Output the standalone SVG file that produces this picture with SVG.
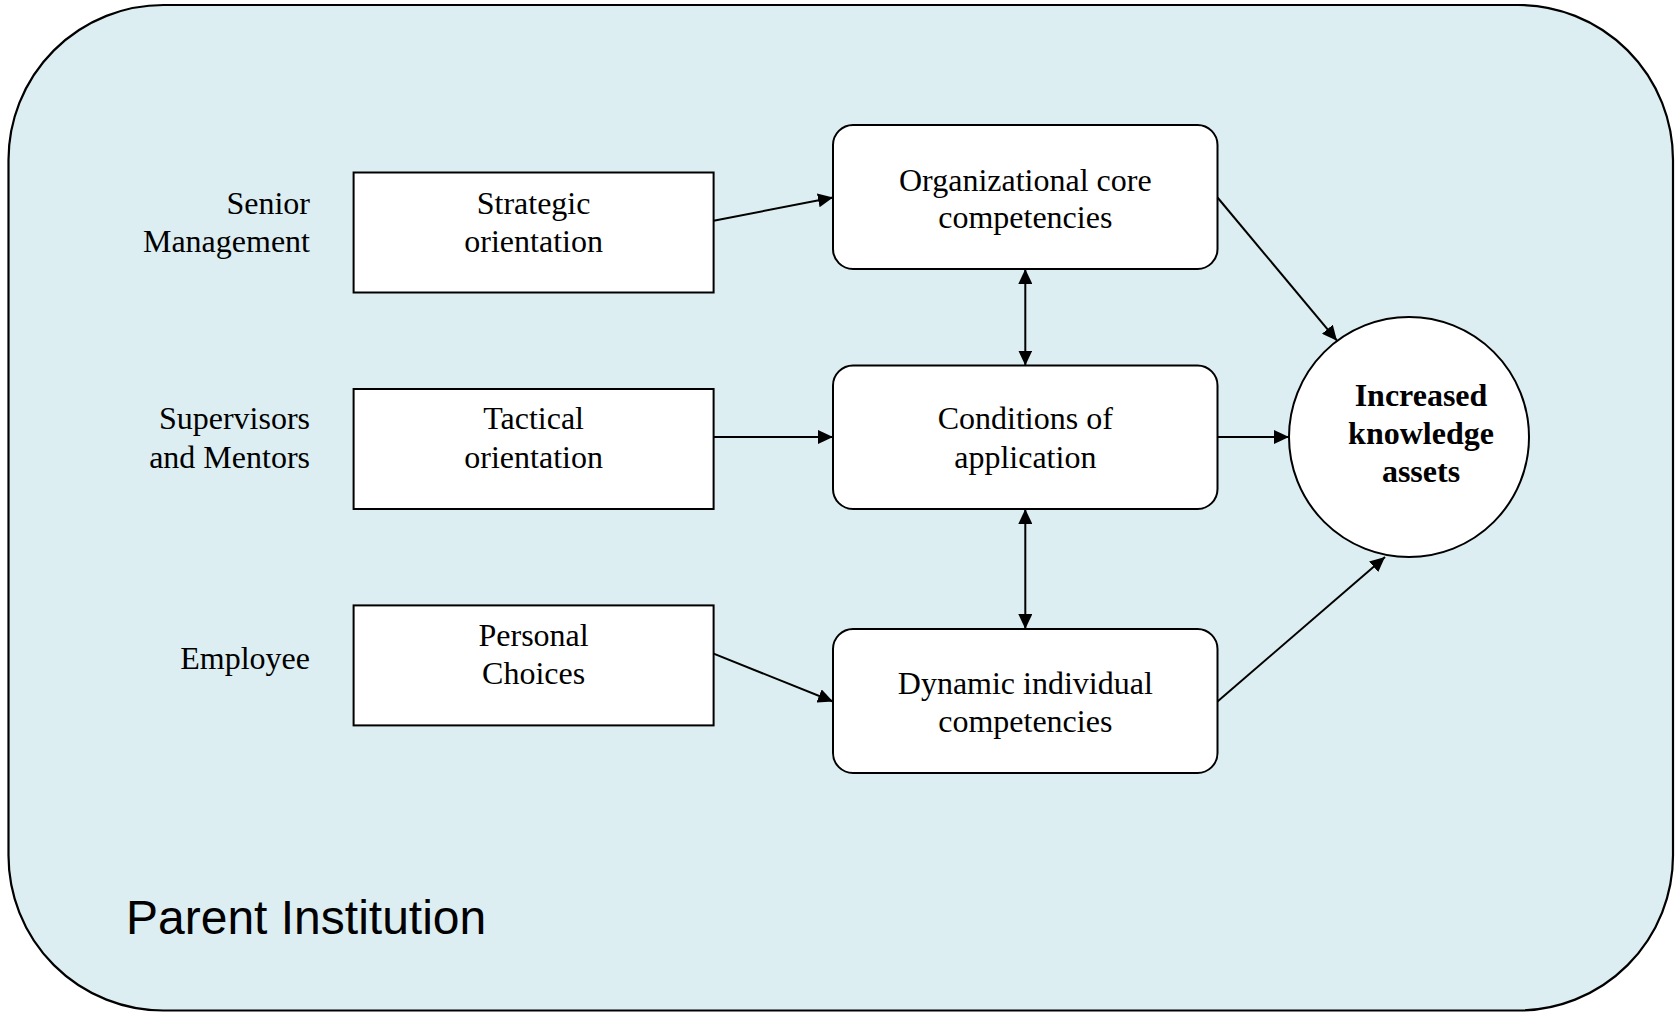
<svg xmlns="http://www.w3.org/2000/svg" width="1680" height="1013" viewBox="0 0 1680 1013">
  <style>
    .frame { fill: #DCEEF1; stroke: #000; stroke-width: 2.2; }
    .box { fill: #fff; stroke: #000; stroke-width: 2; }
    .t { font-family: "Liberation Serif", "Times New Roman", serif; font-size: 32px; fill: #000; }
    .c { text-anchor: middle; }
    .r { text-anchor: end; }
    .b { font-weight: bold; }
    .big { font-family: "Liberation Sans", Arial, sans-serif; font-size: 48px; fill: #000; }
    .edge { stroke: #000; stroke-width: 2; fill: none; }
  </style>
  <defs>
    <marker id="arrow" markerUnits="userSpaceOnUse" viewBox="0 0 15 14" refX="15" refY="7" markerWidth="15" markerHeight="14" orient="auto-start-reverse">
      <path d="M0,0 L15,7 L0,14 z" fill="#000"/>
    </marker>
  </defs>

  <!-- enclosing institution -->
  <g id="parent-institution">
    <rect class="frame" x="8.5" y="5" width="1664.5" height="1005.5" rx="155" ry="155"/>
    <text class="big" x="126" y="934">Parent Institution</text>
  </g>

  <!-- row labels -->
  <g id="label-senior">
    <text class="t r" x="310" y="213.5">Senior</text>
    <text class="t r" x="310" y="251.5">Management</text>
  </g>
  <g id="label-supervisors">
    <text class="t r" x="310" y="429">Supervisors</text>
    <text class="t r" x="310" y="467.5">and Mentors</text>
  </g>
  <g id="label-employee">
    <text class="t r" x="310" y="669">Employee</text>
  </g>

  <!-- orientation boxes -->
  <g id="strategic">
    <rect class="box" x="353.6" y="172.5" width="360" height="120"/>
    <text class="t c" x="533.6" y="213.5">Strategic</text>
    <text class="t c" x="533.6" y="251.5">orientation</text>
  </g>
  <g id="tactical">
    <rect class="box" x="353.6" y="389" width="360" height="120"/>
    <text class="t c" x="533.6" y="429">Tactical</text>
    <text class="t c" x="533.6" y="467.5">orientation</text>
  </g>
  <g id="personal">
    <rect class="box" x="353.6" y="605.4" width="360" height="120"/>
    <text class="t c" x="533.6" y="645.5">Personal</text>
    <text class="t c" x="533.6" y="683.5">Choices</text>
  </g>

  <!-- competency boxes -->
  <g id="organizational">
    <rect class="box" x="833" y="125" width="384.5" height="144" rx="20" ry="20"/>
    <text class="t c" x="1025.3" y="190.5">Organizational core</text>
    <text class="t c" x="1025.3" y="228">competencies</text>
  </g>
  <g id="conditions">
    <rect class="box" x="833" y="365.5" width="384.5" height="143.5" rx="20" ry="20"/>
    <text class="t c" x="1025.3" y="429">Conditions of</text>
    <text class="t c" x="1025.3" y="467.5">application</text>
  </g>
  <g id="dynamic">
    <rect class="box" x="833" y="629" width="384.5" height="144" rx="20" ry="20"/>
    <text class="t c" x="1025.3" y="693.5">Dynamic individual</text>
    <text class="t c" x="1025.3" y="731.5">competencies</text>
  </g>

  <!-- outcome -->
  <g id="knowledge-assets">
    <circle class="box" cx="1409" cy="437" r="120"/>
    <text class="t c b" x="1421" y="405.5">Increased</text>
    <text class="t c b" x="1421" y="443.5">knowledge</text>
    <text class="t c b" x="1421" y="481.5">assets</text>
  </g>

  <!-- connectors -->
  <g id="connectors">
    <line class="edge" x1="713.6" y1="220.7" x2="833" y2="197.5" marker-end="url(#arrow)"/>
    <line class="edge" x1="713.6" y1="437" x2="833" y2="437" marker-end="url(#arrow)"/>
    <line class="edge" x1="713.6" y1="653.6" x2="833" y2="701.5" marker-end="url(#arrow)"/>
    <line class="edge" x1="1217.5" y1="197.5" x2="1337" y2="340.7" marker-end="url(#arrow)"/>
    <line class="edge" x1="1217.5" y1="437" x2="1289" y2="437" marker-end="url(#arrow)"/>
    <line class="edge" x1="1217.5" y1="701.5" x2="1385" y2="557" marker-end="url(#arrow)"/>
    <line class="edge" x1="1025.3" y1="269" x2="1025.3" y2="365.5" marker-start="url(#arrow)" marker-end="url(#arrow)"/>
    <line class="edge" x1="1025.3" y1="509" x2="1025.3" y2="629" marker-start="url(#arrow)" marker-end="url(#arrow)"/>
  </g>
</svg>
